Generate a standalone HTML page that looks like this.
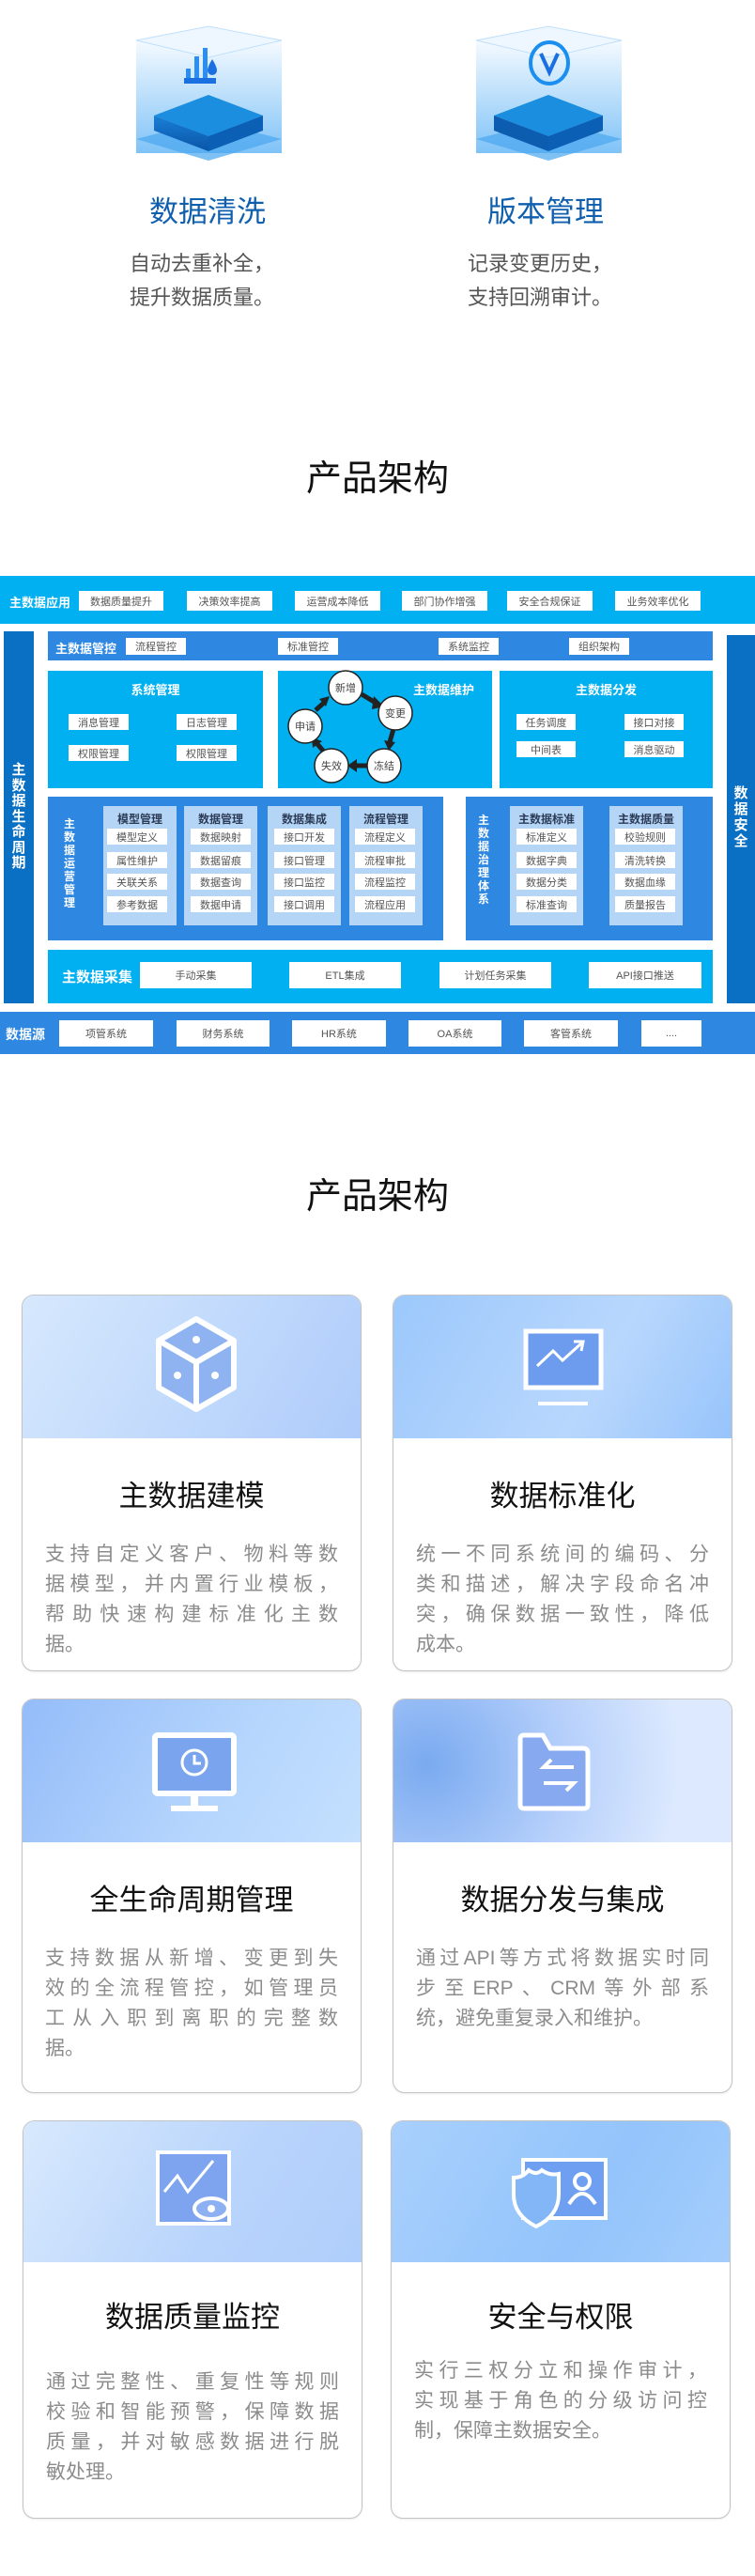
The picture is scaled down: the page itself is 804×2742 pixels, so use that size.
<!DOCTYPE html>
<html><head><meta charset="utf-8"><style>
*{margin:0;padding:0;box-sizing:border-box}
body{width:804px;height:2742px;position:relative;background:#fff;font-family:"Liberation Sans","Noto Sans CJK SC",sans-serif;overflow:hidden}
.a{position:absolute}
.b{position:absolute;background:#fff;color:#555;font-size:11px;display:flex;align-items:center;justify-content:center;white-space:nowrap}
.w{position:absolute;color:#fff;font-weight:bold;font-size:13px;white-space:nowrap}
.cy{background:#00b0f0}
.md{background:#2e88e2}
.dk{background:#0a70c4}
.col{position:absolute;background:#b5d5f6;width:78px;top:858px;height:127px}
.ch{position:absolute;top:863px;width:78px;text-align:center;font-size:12px;font-weight:bold;color:#2b3a55}
.vt{position:absolute;color:#fff;font-weight:bold;text-align:center}
.h1{position:absolute;left:0;width:804px;text-align:center;font-size:38px;color:#111}
.card{position:absolute;width:362px;border:1px solid #c4c4c4;border-radius:13px;overflow:hidden;background:#fff;box-shadow:0 1px 2px rgba(0,0,0,.08)}
.hd{position:absolute;left:0;top:0;width:100%;height:152px;background:linear-gradient(120deg,#d6e8fd 0%,#c2dafc 50%,#aecbfa 100%)}
.tt{position:absolute;left:0;width:100%;top:188px;text-align:center;font-size:31px;color:#111}
.ds{position:absolute;left:24px;width:312px;top:260px;font-size:21px;color:#8c8c8c;line-height:32px}
.ds div{text-align:justify;text-align-last:justify;white-space:nowrap}
.ds div.l{text-align-last:left}
.ttl{position:absolute;font-size:31px;color:#0f5fae}
.dsc{position:absolute;font-size:22px;color:#555;line-height:36px}
</style></head><body>

<svg class="a" style="left:140px;top:23px" width="165" height="160" viewBox="0 0 165 160">
<defs><linearGradient id="g1" x1="0" y1="0" x2="0" y2="1"><stop offset="0" stop-color="#f3f9ff"/><stop offset="1" stop-color="#5fb4f5"/></linearGradient>
<linearGradient id="g2" x1="0" y1="0" x2="0" y2="1"><stop offset="0" stop-color="#1a7fd6"/><stop offset="1" stop-color="#0a55a8"/></linearGradient></defs>
<rect x="5" y="20" width="155" height="120" fill="url(#g1)" opacity=".8"/>
<polygon points="5,20 82,5 160,20 82,38" fill="#eef6ff" stroke="#bfe0fb"/>
<polygon points="5,125 82,105 160,125 82,148" fill="#4aa6f0" opacity=".7"/>
<polygon points="24,100 82,78 140,100 82,122" fill="#1b8ee0"/>
<polygon points="24,100 82,122 82,138 24,116" fill="url(#g2)"/>
<polygon points="82,122 140,100 140,116 82,138" fill="#0b5fb5"/>
<rect x="56" y="60" width="34" height="6" fill="#1a70e0"/>
<rect x="58" y="50" width="5" height="10" fill="#2c8ef0"/><rect x="67" y="37" width="5" height="23" fill="#2c8ef0"/><rect x="76" y="28" width="5" height="32" fill="#2c8ef0"/>
<path d="M86,40 q5,8 5,12 a5,5 0 0 1 -10,0 q0,-4 5,-12z" fill="#1a70e0"/>
</svg>
<svg class="a" style="left:502px;top:23px" width="165" height="160" viewBox="0 0 165 160">
<defs><linearGradient id="g3" x1="0" y1="0" x2="0" y2="1"><stop offset="0" stop-color="#f3f9ff"/><stop offset="1" stop-color="#5fb4f5"/></linearGradient></defs>
<rect x="5" y="20" width="155" height="120" fill="url(#g3)" opacity=".8"/>
<polygon points="5,20 82,5 160,20 82,38" fill="#eef6ff" stroke="#bfe0fb"/>
<polygon points="5,125 82,105 160,125 82,148" fill="#4aa6f0" opacity=".7"/>
<polygon points="24,100 82,78 140,100 82,122" fill="#1b8ee0"/>
<polygon points="24,100 82,122 82,138 24,116" fill="#0c5cb0"/>
<polygon points="82,122 140,100 140,116 82,138" fill="#0b5fb5"/>
<ellipse cx="83" cy="44" rx="20" ry="22" fill="none" stroke="#1a8ff0" stroke-width="4"/>
<path d="M74,34 L83,54 L92,34" fill="none" stroke="#1a70e0" stroke-width="4"/>
</svg>
<div class="ttl" style="left:159px;top:200px">数据清洗</div>
<div class="dsc" style="left:138px;top:263px">自动去重补全，<br>提升数据质量。</div>
<div class="ttl" style="left:519px;top:200px">版本管理</div>
<div class="dsc" style="left:498px;top:263px">记录变更历史，<br>支持回溯审计。</div>

<div class="h1" style="top:478px">产品架构</div>

<div class="a cy" style="left:0;top:613px;width:804px;height:51px"></div>
<div class="w" style="left:10px;top:631px">主数据应用</div>
<div class="b" style="left:84px;top:629px;width:90px;height:21px">数据质量提升</div>
<div class="b" style="left:199px;top:629px;width:91px;height:21px">决策效率提高</div>
<div class="b" style="left:314px;top:629px;width:91px;height:21px">运营成本降低</div>
<div class="b" style="left:428px;top:629px;width:91px;height:21px">部门协作增强</div>
<div class="b" style="left:540px;top:629px;width:91px;height:21px">安全合规保证</div>
<div class="b" style="left:655px;top:629px;width:91px;height:21px">业务效率优化</div>

<div class="a dk" style="left:4px;top:672px;width:32px;height:396px"></div>
<div class="vt" style="left:4px;top:812px;width:32px;font-size:15px;line-height:16.5px">主<br>数<br>据<br>生<br>命<br>周<br>期</div>
<div class="a dk" style="left:774px;top:676px;width:30px;height:392px"></div>
<div class="vt" style="left:774px;top:836px;width:30px;font-size:15px;line-height:17px">数<br>据<br>安<br>全</div>

<div class="a md" style="left:51px;top:672px;width:708px;height:31px"></div>
<div class="w" style="left:59px;top:680px">主数据管控</div>
<div class="b" style="left:134px;top:679px;width:64px;height:18px">流程管控</div>
<div class="b" style="left:296px;top:679px;width:64px;height:18px">标准管控</div>
<div class="b" style="left:467px;top:679px;width:64px;height:18px">系统监控</div>
<div class="b" style="left:606px;top:679px;width:64px;height:18px">组织架构</div>

<div class="a cy" style="left:51px;top:714px;width:229px;height:125px"></div>
<div class="w" style="left:51px;width:229px;text-align:center;top:724px">系统管理</div>
<div class="b" style="left:73px;top:760px;width:64px;height:17px">消息管理</div>
<div class="b" style="left:188px;top:760px;width:64px;height:17px">日志管理</div>
<div class="b" style="left:73px;top:793px;width:64px;height:17px">权限管理</div>
<div class="b" style="left:188px;top:793px;width:64px;height:17px">权限管理</div>

<div class="a cy" style="left:296px;top:714px;width:228px;height:125px"></div>
<div class="w" style="left:440px;top:724px">主数据维护</div>
<svg class="a" style="left:296px;top:700px" width="160" height="150" viewBox="296 700 160 150">
<g stroke="#222" stroke-width="5" fill="#222">
<line x1="385" y1="739" x2="400" y2="748"/><polygon points="398,741 409,752 396,755" stroke="none"/>
<line x1="419" y1="776" x2="415" y2="790"/><polygon points="409,788 414,799 421,790" stroke="none"/>
<line x1="391" y1="815" x2="378" y2="815"/><polygon points="380,808 370,815 380,822" stroke="none"/>
<line x1="344" y1="799" x2="338" y2="792"/><polygon points="333,796 332,785 343,789" stroke="none"/>
<line x1="336" y1="756" x2="345" y2="748"/><polygon points="340,744 351,741 347,752" stroke="none"/>
</g>
<g fill="#fff" stroke="#222" stroke-width="1.5">
<circle cx="368" cy="732" r="18"/><circle cx="421" cy="759" r="18"/><circle cx="409" cy="815" r="18"/><circle cx="353" cy="815" r="18"/><circle cx="325" cy="773" r="18"/>
</g>
<g font-size="11" fill="#444" text-anchor="middle" font-family="Liberation Sans,Noto Sans CJK SC,sans-serif">
<text x="368" y="736">新增</text><text x="421" y="763">变更</text><text x="409" y="819">冻结</text><text x="353" y="819">失效</text><text x="325" y="777">申请</text>
</g></svg>

<div class="a cy" style="left:532px;top:714px;width:227px;height:125px"></div>
<div class="w" style="left:532px;width:227px;text-align:center;top:724px">主数据分发</div>
<div class="b" style="left:550px;top:760px;width:63px;height:17px">任务调度</div>
<div class="b" style="left:665px;top:760px;width:63px;height:17px">接口对接</div>
<div class="b" style="left:550px;top:789px;width:63px;height:17px">中间表</div>
<div class="b" style="left:665px;top:789px;width:63px;height:17px">消息驱动</div>

<div class="a md" style="left:51px;top:848px;width:421px;height:153px"></div>
<div class="vt" style="left:64px;top:870px;width:20px;font-size:12px;line-height:14px">主<br>数<br>据<br>运<br>营<br>管<br>理</div>
<div class="col" style="left:110px"></div><div class="ch" style="left:110px">模型管理</div>
<div class="col" style="left:196px"></div><div class="ch" style="left:196px">数据管理</div>
<div class="col" style="left:285px"></div><div class="ch" style="left:285px">数据集成</div>
<div class="col" style="left:372px"></div><div class="ch" style="left:372px">流程管理</div>
<div class="b" style="left:114px;top:882px;width:64px;height:17px">模型定义</div>
<div class="b" style="left:114px;top:907px;width:64px;height:17px">属性维护</div>
<div class="b" style="left:114px;top:930px;width:64px;height:17px">关联关系</div>
<div class="b" style="left:114px;top:954px;width:64px;height:17px">参考数据</div>
<div class="b" style="left:203px;top:882px;width:64px;height:17px">数据映射</div>
<div class="b" style="left:203px;top:907px;width:64px;height:17px">数据留痕</div>
<div class="b" style="left:203px;top:930px;width:64px;height:17px">数据查询</div>
<div class="b" style="left:203px;top:954px;width:64px;height:17px">数据申请</div>
<div class="b" style="left:292px;top:882px;width:64px;height:17px">接口开发</div>
<div class="b" style="left:292px;top:907px;width:64px;height:17px">接口管理</div>
<div class="b" style="left:292px;top:930px;width:64px;height:17px">接口监控</div>
<div class="b" style="left:292px;top:954px;width:64px;height:17px">接口调用</div>
<div class="b" style="left:378px;top:882px;width:64px;height:17px">流程定义</div>
<div class="b" style="left:378px;top:907px;width:64px;height:17px">流程审批</div>
<div class="b" style="left:378px;top:930px;width:64px;height:17px">流程监控</div>
<div class="b" style="left:378px;top:954px;width:64px;height:17px">流程应用</div>

<div class="a md" style="left:496px;top:848px;width:263px;height:153px"></div>
<div class="vt" style="left:505px;top:866px;width:20px;font-size:12px;line-height:14px">主<br>数<br>据<br>治<br>理<br>体<br>系</div>
<div class="col" style="left:543px"></div><div class="ch" style="left:543px">主数据标准</div>
<div class="col" style="left:649px"></div><div class="ch" style="left:649px">主数据质量</div>
<div class="b" style="left:550px;top:882px;width:64px;height:17px">标准定义</div>
<div class="b" style="left:550px;top:907px;width:64px;height:17px">数据字典</div>
<div class="b" style="left:550px;top:930px;width:64px;height:17px">数据分类</div>
<div class="b" style="left:550px;top:954px;width:64px;height:17px">标准查询</div>
<div class="b" style="left:655px;top:882px;width:64px;height:17px">校验规则</div>
<div class="b" style="left:655px;top:907px;width:64px;height:17px">清洗转换</div>
<div class="b" style="left:655px;top:930px;width:64px;height:17px">数据血缘</div>
<div class="b" style="left:655px;top:954px;width:64px;height:17px">质量报告</div>

<div class="a cy" style="left:51px;top:1011px;width:708px;height:57px"></div>
<div class="w" style="left:66px;top:1029px;font-size:15px">主数据采集</div>
<div class="b" style="left:149px;top:1024px;width:119px;height:28px">手动采集</div>
<div class="b" style="left:308px;top:1024px;width:119px;height:28px">ETL集成</div>
<div class="b" style="left:468px;top:1024px;width:119px;height:28px">计划任务采集</div>
<div class="b" style="left:627px;top:1024px;width:120px;height:28px">API接口推送</div>

<div class="a md" style="left:0;top:1077px;width:804px;height:45px"></div>
<div class="w" style="left:6px;top:1091px;font-size:14px">数据源</div>
<div class="b" style="left:63px;top:1086px;width:100px;height:28px">项管系统</div>
<div class="b" style="left:188px;top:1086px;width:99px;height:28px">财务系统</div>
<div class="b" style="left:311px;top:1086px;width:100px;height:28px">HR系统</div>
<div class="b" style="left:435px;top:1086px;width:99px;height:28px">OA系统</div>
<div class="b" style="left:558px;top:1086px;width:100px;height:28px">客管系统</div>
<div class="b" style="left:683px;top:1086px;width:64px;height:28px">....</div>

<div class="h1" style="top:1242px">产品架构</div>

<div class="card" style="left:23px;top:1378px;height:401px">
 <div class="hd"></div>
 <svg class="a" style="left:140px;top:22px" width="90" height="105" viewBox="0 0 90 105">
  <polygon points="45,3 85,26 85,76 45,99 5,76 5,26" fill="#8fb3f0" stroke="#fff" stroke-width="6" stroke-linejoin="round"/>
  <polyline points="5,26 45,49 85,26" fill="none" stroke="#fff" stroke-width="6"/><line x1="45" y1="49" x2="45" y2="99" stroke="#fff" stroke-width="6"/>
  <circle cx="45" cy="25" r="4" fill="#fff"/><circle cx="25" cy="63" r="4" fill="#fff"/><circle cx="65" cy="63" r="4" fill="#fff"/>
 </svg>
 <div class="tt">主数据建模</div>
 <div class="ds"><div>支持自定义客户、物料等数</div><div>据模型，并内置行业模板，</div><div>帮助快速构建标准化主数</div><div class="l">据。</div></div>
</div>
<div class="card" style="left:418px;top:1378px;height:401px">
 <div class="hd" style="background:linear-gradient(120deg,#9cc8fc,#b8d7fd 60%,#97c4fb)"></div>
 <svg class="a" style="left:138px;top:35px" width="90" height="85" viewBox="0 0 90 85">
  <rect x="3" y="3" width="80" height="60" fill="#6d9cee" stroke="#fff" stroke-width="5"/>
  <polyline points="15,40 32,24 42,34 62,16" fill="none" stroke="#fff" stroke-width="3"/><polyline points="54,14 64,14 62,24" fill="none" stroke="#fff" stroke-width="3"/>
  <line x1="16" y1="80" x2="69" y2="80" stroke="#fff" stroke-width="4"/>
 </svg>
 <div class="tt">数据标准化</div>
 <div class="ds"><div>统一不同系统间的编码、分</div><div>类和描述，解决字段命名冲</div><div>突，确保数据一致性，降低</div><div class="l">成本。</div></div>
</div>

<div class="card" style="left:23px;top:1808px;height:420px">
 <div class="hd" style="background:linear-gradient(120deg,#94bcf9,#b6d6fd 60%,#c4e0fe)"></div>
 <svg class="a" style="left:138px;top:35px" width="90" height="90" viewBox="0 0 90 90">
  <rect x="3" y="3" width="84" height="62" rx="3" fill="#7aa5ee" stroke="#fff" stroke-width="6"/>
  <circle cx="45" cy="32" r="13" fill="none" stroke="#fff" stroke-width="3"/><polyline points="45,24 45,33 52,33" fill="none" stroke="#fff" stroke-width="3"/>
  <rect x="41" y="66" width="8" height="14" fill="#fff"/><rect x="20" y="78" width="50" height="6" fill="#fff"/>
 </svg>
 <div class="tt">全生命周期管理</div>
 <div class="ds"><div>支持数据从新增、变更到失</div><div>效的全流程管控，如管理员</div><div>工从入职到离职的完整数</div><div class="l">据。</div></div>
</div>
<div class="card" style="left:418px;top:1808px;height:420px">
 <div class="hd" style="background:radial-gradient(circle at 10% 45%,#7aaaf0,#b6d0fb 45%,#dce9fe 80%)"></div>
 <svg class="a" style="left:130px;top:34px" width="100" height="85" viewBox="0 0 100 85">
  <path d="M5,8 q0,-4 4,-4 h20 l8,14 h35 q5,0 5,5 v55 q0,4 -4,4 h-64 q-4,0 -4,-4z" fill="#86a9f0" stroke="#fff" stroke-width="5"/>
  <polyline points="62,38 30,38 38,30" fill="none" stroke="#fff" stroke-width="4"/><polyline points="30,55 62,55 54,63" fill="none" stroke="#fff" stroke-width="4"/>
 </svg>
 <div class="tt">数据分发与集成</div>
 <div class="ds"><div>通过API等方式将数据实时同</div><div>步至ERP、CRM等外部系</div><div class="l">统，避免重复录入和维护。</div></div>
</div>

<div class="card" style="left:24px;top:2257px;height:424px">
 <div class="hd" style="height:150px;background:linear-gradient(120deg,#d8e9fd,#b8d4fc 60%,#b0cefb)"></div>
 <svg class="a" style="left:140px;top:30px" width="90" height="90" viewBox="0 0 90 90">
  <rect x="3" y="3" width="76" height="76" fill="#7ea4ef" stroke="#fff" stroke-width="4"/>
  <polyline points="10,45 24,28 35,45 62,12" fill="none" stroke="#fff" stroke-width="3"/>
  <ellipse cx="60" cy="63" rx="18" ry="11" fill="#8db0f2" stroke="#fff" stroke-width="4"/><circle cx="60" cy="63" r="4" fill="#fff"/>
 </svg>
 <div class="tt" style="top:183px">数据质量监控</div>
 <div class="ds" style="top:262px"><div>通过完整性、重复性等规则</div><div>校验和智能预警，保障数据</div><div>质量，并对敏感数据进行脱</div><div class="l">敏处理。</div></div>
</div>
<div class="card" style="left:416px;top:2257px;height:424px">
 <div class="hd" style="height:150px;background:linear-gradient(120deg,#a9d0fd,#93c4fb 60%,#a4cdfc)"></div>
 <svg class="a" style="left:125px;top:38px" width="110" height="80" viewBox="0 0 110 80">
  <rect x="15" y="3" width="88" height="62" fill="#6f9ff0" stroke="#fff" stroke-width="4"/>
  <path d="M5,22 q10,0 16,-8 q8,6 14,0 q8,6 18,4 v22 q0,22 -24,34 q-24,-12 -24,-34z" fill="#82b6f6" stroke="#fff" stroke-width="4"/>
  <circle cx="78" cy="26" r="8" fill="none" stroke="#fff" stroke-width="4"/><path d="M64,50 q14,-22 28,0" fill="none" stroke="#fff" stroke-width="4"/>
 </svg>
 <div class="tt" style="top:183px">安全与权限</div>
 <div class="ds" style="top:250px;left:24px"><div>实行三权分立和操作审计，</div><div>实现基于角色的分级访问控</div><div class="l">制，保障主数据安全。</div></div>
</div>
</body></html>
